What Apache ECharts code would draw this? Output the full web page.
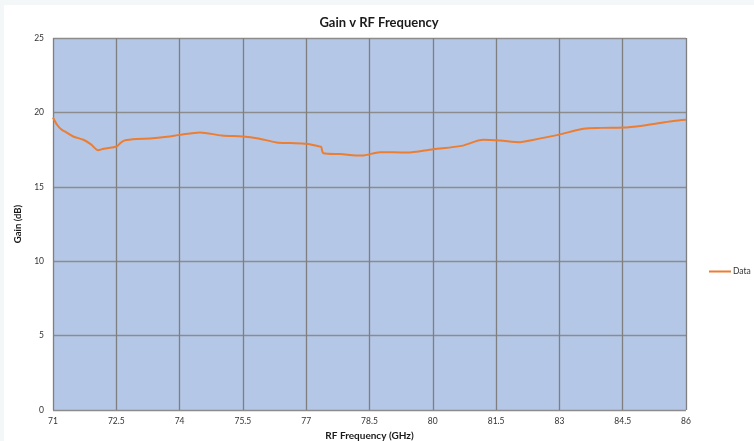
<!DOCTYPE html>
<html>
<head>
<meta charset="utf-8">
<script src="https://cdn.jsdelivr.net/npm/echarts@6/dist/echarts.min.js"></script>
<style>
html,body{margin:0;padding:0;background:#f4f7f8;width:754px;height:441px;overflow:hidden;}
#c{position:absolute;left:4px;top:5px;width:750px;height:436px;background:#ffffff;}
</style>
</head>
<body>
<div id="c"></div>
<script>
const freq = [71.0, 71.1, 71.2, 71.28, 71.48, 71.72, 71.9, 72.07, 72.2, 72.51, 72.6, 72.7, 72.98, 73.3, 73.7, 74.01, 74.48, 75.0, 75.5, 75.83, 76.3, 76.62, 77.01, 77.29, 77.35, 77.41, 77.8, 78.32, 78.75, 79.38, 80.01, 80.68, 81.2, 81.59, 82.07, 82.3, 82.97, 83.57, 84.0, 84.51, 85.0, 85.38, 85.7, 86.0];
const gain = [19.66, 19.15, 18.85, 18.72, 18.38, 18.16, 17.85, 17.46, 17.56, 17.71, 17.95, 18.12, 18.22, 18.25, 18.36, 18.49, 18.65, 18.45, 18.38, 18.27, 17.98, 17.94, 17.89, 17.72, 17.7, 17.26, 17.2, 17.1, 17.33, 17.3, 17.53, 17.75, 18.16, 18.11, 18.0, 18.11, 18.49, 18.9, 18.96, 18.98, 19.12, 19.28, 19.42, 19.5];
const xTicks = [71, 72.5, 74, 75.5, 77, 78.5, 80, 81.5, 83, 84.5, 86];
const yTicks = [0, 5, 10, 15, 20, 25];

const font = 'Lato, "Open Sans", sans-serif';
const chart = echarts.init(document.getElementById('c'), null, {renderer: 'canvas'});
chart.setOption({
  animation: false,
  backgroundColor: '#ffffff',
  title: {
    text: 'Gain v RF Frequency',
    left: 'center',
    top: 6,
    textStyle: {fontFamily: font, fontSize: 13, fontWeight: 'bold', color: '#1a1a1a'}
  },
  legend: {
    data: ['Data'],
    left: 700,
    top: 257,
    itemWidth: 22,
    itemHeight: 2,
    itemGap: 4,
    icon: 'rect',
    textStyle: {fontFamily: font, fontSize: 8.5, color: '#333', padding: [0, 0, 0, -3]}
  },
  grid: {left: 49, top: 33, right: 68, bottom: 31, backgroundColor: '#b4c7e7', show: true, borderWidth: 0, containLabel: false, outerBoundsMode: 'none'},
  xAxis: {
    type: 'value',
    min: 71, max: 86, interval: 1.5,
    name: 'RF Frequency (GHz)',
    nameLocation: 'middle',
    nameGap: 18,
    nameTextStyle: {fontFamily: font, fontSize: 10, fontWeight: 'bold', color: '#1a1a1a'},
    axisLine: {show: false},
    axisTick: {show: false},
    axisLabel: {fontFamily: font, fontSize: 8.5, color: '#333', margin: 7},
    splitLine: {show: true, lineStyle: {color: '#7f7f7f', width: 1.3}}
  },
  yAxis: {
    type: 'value',
    min: 0, max: 25, interval: 5,
    name: 'Gain (dB)',
    nameLocation: 'middle',
    nameGap: 26,
    nameTextStyle: {fontFamily: font, fontSize: 9.5, fontWeight: 'bold', color: '#1a1a1a'},
    axisLine: {show: false},
    axisTick: {show: false},
    axisLabel: {fontFamily: font, fontSize: 8.5, color: '#333', margin: 9},
    splitLine: {show: true, lineStyle: {color: '#8c8c8c', width: 1.3}}
  },
  series: [{
    name: 'Data',
    type: 'line',
    data: freq.map((f, i) => [f, gain[i]]),
    showSymbol: false,
    smooth: 0.3,
    lineStyle: {color: '#ed7d31', width: 2},
    itemStyle: {color: '#ed7d31'}
  }]
});
</script>
</body>
</html>
